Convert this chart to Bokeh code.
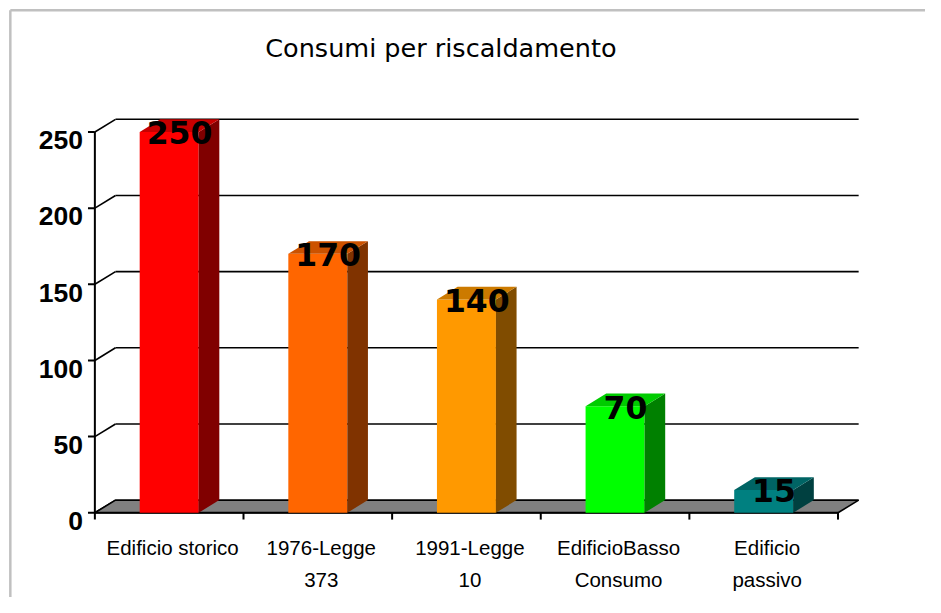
from bokeh.plotting import figure
from bokeh.models import Range1d
from bokeh.embed import file_html
from bokeh.resources import INLINE
from bokeh.core.properties import value

# ---------------- data ----------------
title_text = "Consumi per riscaldamento"
categories = ["Edificio storico", "1976-Legge 373", "1991-Legge 10",
              "EdificioBasso Consumo", "Edificio passivo"]
label_line1 = ["Edificio storico", "1976-Legge", "1991-Legge", "EdificioBasso", "Edificio"]
label_line2 = ["", "373", "10", "Consumo", "passivo"]
consumi = [250, 170, 140, 70, 15]
y_ticks = [0, 50, 100, 150, 200, 250]

front_colors = ["#FF0000", "#FF6600", "#FF9900", "#00FF00", "#008080"]
side_colors = ["#800000", "#803300", "#804C00", "#008000", "#004040"]
top_colors = ["#C80000", "#CC5200", "#CC7A00", "#00CC00", "#006464"]

# ---------------- layout (reference-image pixels) ----------------
W, H = 925, 597                # canvas size
REF_W, REF_H = 941, 613        # layout grid the positions below are measured in
X0, CAT_W = 96, 151.2          # front-left corner of the floor, width of one category
Y0, PX_PER_UNIT = 526, 1.564   # front baseline and vertical scale
DEPTH_X_PX, DEPTH_Y_PX = 21, 13
BAR_W_PX = 60


def xp(ref_x):
    return (ref_x - X0) / CAT_W


def yp(ref_y):
    return (Y0 - ref_y) / PX_PER_UNIT


DX = DEPTH_X_PX / CAT_W
DY = DEPTH_Y_PX / PX_PER_UNIT
HW = BAR_W_PX / 2 / CAT_W
N = len(categories)

p = figure(width=W, height=H,
           x_range=Range1d(xp(0), xp(REF_W)),
           y_range=Range1d(yp(REF_H), yp(0)),
           x_axis_type=None, y_axis_type=None,
           toolbar_location=None, output_backend="svg",
           min_border=0, outline_line_color=None,
           background_fill_color="white", border_fill_color="white")

# outer frame (top and left visible)
p.line([xp(10), xp(REF_W)], [yp(10), yp(10)], line_color="#C0C0C0", line_width=2.5)
p.line([xp(10), xp(10)], [yp(10), yp(REF_H)], line_color="#C0C0C0", line_width=2.5)

gy = y_ticks[1:]
# back-wall gridlines
p.segment(x0=[DX] * len(gy), y0=[v + DY for v in gy],
          x1=[N + DX] * len(gy), y1=[v + DY for v in gy],
          line_color="black", line_width=1.6)
# side-wall diagonals
p.segment(x0=[0] * len(y_ticks), y0=y_ticks,
          x1=[DX] * len(y_ticks), y1=[v + DY for v in y_ticks],
          line_color="black", line_width=1.6)

# floor
p.patch([0, N, N + DX, DX], [0, 0, DY, DY],
        fill_color="#808080", line_color="black", line_width=1.6)

# front value axis and ticks
ymax = max(y_ticks)
p.segment(x0=[0], y0=[0], x1=[0], y1=[ymax], line_color="black", line_width=2)
p.segment(x0=[xp(89)] * len(y_ticks), y0=y_ticks, x1=[0] * len(y_ticks), y1=y_ticks,
          line_color="black", line_width=2)
# category axis line and ticks
p.segment(x0=[0], y0=[0], x1=[N], y1=[0], line_color="black", line_width=2)
p.segment(x0=list(range(N + 1)), y0=[0] * (N + 1),
          x1=list(range(N + 1)), y1=[yp(533)] * (N + 1),
          line_color="black", line_width=2)

# bars
centers = [i + 0.5 for i in range(N)]
p.quad(left=[c - HW for c in centers], right=[c + HW for c in centers],
       bottom=[0] * N, top=consumi, fill_color=front_colors, line_color=None)
p.patches(xs=[[c + HW, c + HW + DX, c + HW + DX, c + HW] for c in centers],
          ys=[[0, DY, v + DY, v] for v in consumi],
          fill_color=side_colors, line_color=None)
p.patches(xs=[[c - HW, c + HW, c + HW + DX, c - HW + DX] for c in centers],
          ys=[[v, v, v + DY, v + DY] for v in consumi],
          fill_color=top_colors, line_color=None)

# data labels
p.text(x=[c + DX / 2 for c in centers], y=[v - 1 / PX_PER_UNIT for v in consumi],
       text=[str(v) for v in consumi], text_align="center", text_baseline="alphabetic",
       text_font=value("DejaVu Sans"), text_font_style="bold",
       text_font_size="31.5px", text_color="black")

# value tick labels
p.text(x=[xp(84)] * len(y_ticks), y=[v - 8.5 / PX_PER_UNIT for v in y_ticks],
       text=[str(v) for v in y_ticks], text_align="right", text_baseline="alphabetic",
       text_font=value("Liberation Sans"), text_font_style="bold",
       text_font_size="26.5px", text_color="black")

# category labels (two lines)
lx = [c + 3.5 / CAT_W for c in centers]
p.text(x=lx, y=[yp(562)] * N, text=label_line1, text_align="center",
       text_baseline="alphabetic", text_font=value("Liberation Sans"),
       text_font_size="20.5px", text_color="black")
p.text(x=lx, y=[yp(595)] * N, text=label_line2, text_align="center",
       text_baseline="alphabetic", text_font=value("Liberation Sans"),
       text_font_size="20.5px", text_color="black")

# title
p.text(x=[xp(448)], y=[yp(48.5)], text=[title_text], text_align="center",
       text_baseline="alphabetic", text_font=value("DejaVu Sans"),
       text_font_size="25.5px", text_color="black")

open("out.html", "w").write(file_html(p, INLINE))
